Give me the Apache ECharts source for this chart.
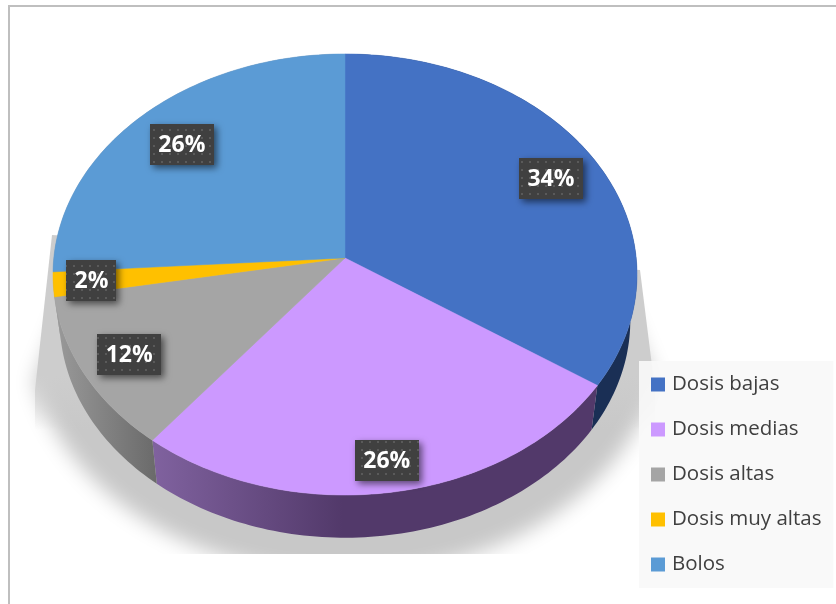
<!DOCTYPE html>
<html>
<head>
<meta charset="utf-8">
<style>
  html, body { margin: 0; padding: 0; background: #fff; }
  #chart { width: 836px; height: 604px; }
</style>
<script src="https://cdn.jsdelivr.net/npm/echarts@6/dist/echarts.min.js"></script>
</head>
<body>
<div id="chart"></div>
<script>
var categories = ['Dosis bajas', 'Dosis medias', 'Dosis altas', 'Dosis muy altas', 'Bolos'];
var values = [34.4, 26.3, 11.5, 1.8, 26];

var colors = ['#4472c4', '#cc99ff', '#a5a5a5', '#ffc000', '#5b9bd5'];
// color de la pared lateral: [izquierda, derecha]
var wallColors = [['#1a2f55', '#1a2f55'], ['#80629f', '#52396a'], ['#9a9a9a', '#6a6a6a'], ['#9a9a9a', '#9a9a9a'], ['#9a9a9a', '#9a9a9a']];
var labelRadius = [0.825, 0.875, 0.835, 0.87, 0.8];
var labelDy = [3, 0, 0, 0, 2];

// proyeccion en perspectiva del circulo
var cx = 345, cy = 258, A = 291.2, B = 219.3, K = 0.0748;
var total = values.reduce(function (a, b) { return a + b; }, 0);

function project(angle, r) {
  var u = Math.sin(angle) * r, v = -Math.cos(angle) * r;
  var d = 1 - K * v;
  return [cx + A * u / d, cy + B * v / d];
}
function lower(p) {
  return [cx + (p[0] - cx) * 0.977, 320.5 + (p[1] - 274.5) * 0.985];
}
function arc(a0, a1) {
  var pts = [], n = Math.max(2, Math.ceil((a1 - a0) / 0.02));
  for (var i = 0; i <= n; i++) pts.push(project(a0 + (a1 - a0) * i / n, 1));
  return pts;
}

// trama de puntos de las etiquetas
var dots = document.createElement('canvas');
dots.width = 8; dots.height = 8;
var dc = dots.getContext('2d');
dc.fillStyle = '#404040'; dc.fillRect(0, 0, 8, 8);
dc.fillStyle = '#5a5a5a'; dc.fillRect(1, 1, 2, 2);

function renderSlice(idx) {
  return function (params, api) {
    var before = 0;
    for (var i = 0; i < idx; i++) before += values[i];
    var a0 = before / total * Math.PI * 2;
    var a1 = (before + api.value(0)) / total * Math.PI * 2;
    var top = arc(a0, a1);
    var wall = top.concat(top.map(lower).reverse());
    var xs = wall.map(function (p) { return p[0]; });
    var x0 = Math.min.apply(null, xs), x1 = Math.max.apply(null, xs);
    var fill = {
      type: 'linear', x: x0, y: 0, x2: Math.max(x0 + 1, Math.min(x1, x0 + 190)), y2: 0, global: true,
      colorStops: [{ offset: 0, color: wallColors[idx][0] }, { offset: 1, color: wallColors[idx][1] }]
    };
    var c = api.visual('color');
    var pos = project((a0 + a1) / 2, labelRadius[idx]);
    pos[1] += labelDy[idx];
    var label = Math.round(api.value(0)) + '%';
    var w = label.length > 2 ? 64 : 50, h = 41;
    return {
      type: 'group',
      children: [
        { type: 'polygon', z2: 1, shape: { points: wall }, style: { fill: fill } },
        {
          type: 'polygon', z2: 2, shape: { points: [[cx, cy]].concat(top) },
          style: { fill: c, stroke: c, lineWidth: 0.5 }
        },
        {
          type: 'rect', z2: 3,
          shape: { x: Math.round(pos[0] - w / 2), y: Math.round(pos[1] - h / 2), width: w, height: h },
          style: {
            fill: { image: dots, repeat: 'repeat' },
            shadowBlur: 7, shadowColor: 'rgba(0,0,0,0.55)', shadowOffsetX: 3, shadowOffsetY: 3
          }
        },
        {
          type: 'text', z2: 4, x: pos[0], y: pos[1] + 1,
          style: {
            text: label, fill: '#fff', align: 'center', verticalAlign: 'middle',
            font: 'bold 23px "Open Sans"'
          }
        }
      ]
    };
  };
}

// parte baja de la sombra, dibujada fuera del lienzo para dejar solo el difuminado
var blurPts = [];
for (var t = 0; t <= 120; t++) {
  var ang = t / 120 * Math.PI * 2, sy = 330 + 245 * Math.sin(ang);
  if (sy >= 375) blurPts.push([345 + 318 * Math.cos(ang) - 2000, sy]);
}
blurPts.push([75 - 2000, 280], [615 - 2000, 280]);

var option = {
  animation: false,
  backgroundColor: '#fff',
  color: colors,
  legend: {
    data: categories,
    orient: 'vertical',
    left: 639,
    top: 361,
    height: 235,
    padding: [13, 12, 13, 12],
    backgroundColor: 'rgba(249,249,249,0.92)',
    icon: 'rect',
    itemWidth: 14,
    itemHeight: 14,
    itemGap: 24,
    textStyle: { color: '#404040', fontFamily: 'Open Sans', fontSize: 20.5, padding: [0, 0, 0, 2] }
  },
  graphic: [
    {
      type: 'polygon', z: 0, silent: true, shape: { points: blurPts },
      style: { fill: '#000', shadowBlur: 20, shadowColor: '#c8c8c8', shadowOffsetX: 2000 }
    },
    {
      type: 'polygon', z: 0, silent: true,
      shape: { points: [[52, 235], [35, 390], [35, 430], [655, 430], [655, 390], [640, 270]] },
      style: {
        fill: {
          type: 'linear', x: 0, y: 235, x2: 0, y2: 430, global: true,
          colorStops: [
            { offset: 0, color: 'rgba(205,205,205,1)' },
            { offset: 0.72, color: 'rgba(205,205,205,1)' },
            { offset: 1, color: 'rgba(205,205,205,0)' }
          ]
        }
      }
    },
    { type: 'rect', z: 0, silent: true, shape: { x: 0, y: 554, width: 836, height: 50 }, style: { fill: '#fff' } },
    // marco
    { type: 'rect', z: 1, silent: true, shape: { x: 8, y: 5, width: 2, height: 599 }, style: { fill: '#bfbfbf' } },
    { type: 'rect', z: 1, silent: true, shape: { x: 8, y: 5, width: 828, height: 2 }, style: { fill: '#bfbfbf' } }
  ],
  series: categories.map(function (name, i) {
    return {
      type: 'custom',
      name: name,
      coordinateSystem: 'none',
      renderItem: renderSlice(i),
      data: [[values[i]]]
    };
  })
};

var myChart = echarts.init(document.getElementById('chart'), null, { renderer: 'canvas' });
myChart.setOption(option);
</script>
</body>
</html>
